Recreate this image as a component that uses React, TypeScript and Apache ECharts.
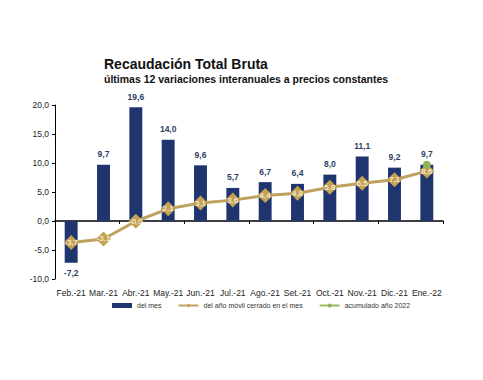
import React, { useEffect, useRef } from "react";
import * as echarts from "echarts";

const categories = ["Feb.-21", "Mar.-21", "Abr.-21", "May.-21", "Jun.-21", "Jul.-21", "Ago.-21", "Set.-21", "Oct.-21", "Nov.-21", "Dic.-21", "Ene.-22"];
const delMes = [-7.2, 9.7, 19.6, 14.0, 9.6, 5.7, 6.7, 6.4, 8.0, 11.1, 9.2, 9.7];
const movil = [-3.7, -3.1, -0.04, 2.1, 3.1, 3.6, 4.4, 4.8, 5.8, 6.5, 7.1, 8.6];
const acumulado = [null, null, null, null, null, null, null, null, null, null, null, 9.7];

const fmt = (v: number) => v.toFixed(1).replace(".", ",");
const FONT = "Liberation Sans";

export default function App() {
  const ref = useRef<HTMLDivElement>(null);
  useEffect(() => {
    const chart = echarts.init(ref.current!, null, { renderer: "svg" });
    chart.setOption({
      animation: false,
      textStyle: { fontFamily: FONT },
      title: {
        text: "Recaudación Total Bruta",
        subtext: "últimas 12 variaciones interanuales a precios constantes",
        left: 104,
        top: 57,
        itemGap: 2,
        padding: 0,
        textStyle: { fontFamily: FONT, fontSize: 14, fontWeight: "bold", color: "#111" },
        subtextStyle: { fontFamily: FONT, fontSize: 10.5, fontWeight: "bold", color: "#111" },
      },
      legend: {
        top: 302,
        left: 112,
        padding: 0,
        itemWidth: 20,
        itemHeight: 5,
        itemGap: 16,
        textStyle: { fontFamily: FONT, fontSize: 7, color: "#333" },
        data: [
          { name: "del mes", icon: "rect" },
          { name: "del año móvil cerrado en el mes" },
          { name: "acumulado año 2022" },
        ],
      },
      grid: { left: 55, right: 40, top: 105, bottom: 101 },
      xAxis: [
        {
          type: "category",
          data: categories,
          position: "bottom",
          axisLine: { show: true, onZero: true, lineStyle: { color: "#000", width: 1.5 } },
          axisTick: { show: true, length: 3, inside: false, lineStyle: { color: "#000" } },
          axisLabel: { show: false },
        },
        {
          type: "category",
          data: categories,
          position: "bottom",
          axisLine: { show: false, onZero: false },
          axisTick: { show: false },
          axisLabel: { show: true, fontSize: 8.5, color: "#222", margin: 9, interval: 0, fontFamily: FONT },
        },
      ],
      yAxis: {
        type: "value",
        min: -10,
        max: 20,
        interval: 5,
        axisLine: { show: true, lineStyle: { color: "#000" } },
        axisTick: { show: true, length: 3, lineStyle: { color: "#000" } },
        splitLine: { show: false },
        axisLabel: { formatter: (v: number) => fmt(v), fontSize: 8.5, color: "#222", margin: 6, fontFamily: FONT },
      },
      series: [
        {
          name: "del mes",
          type: "bar",
          data: delMes,
          barWidth: "40%",
          itemStyle: { color: "#1F3570" },
          label: {
            show: true,
            position: "outside",
            formatter: (p: any) => fmt(p.value),
            fontSize: 8.5,
            fontWeight: "bold",
            color: "#2B3F66",
            distance: 6,
            fontFamily: FONT,
          },
        },
        {
          name: "del año móvil cerrado en el mes",
          type: "line",
          data: movil,
          symbol: "diamond",
          symbolSize: 15,
          lineStyle: { color: "#BFA15E", width: 3 },
          itemStyle: { color: "#C4A24F" },
          label: {
            show: true,
            position: "inside",
            formatter: (p: any) => fmt(p.value),
            fontSize: 8,
            color: "#fff",
            fontFamily: FONT,
          },
          z: 5,
        },
        {
          name: "acumulado año 2022",
          type: "line",
          data: acumulado,
          symbol: "circle",
          symbolSize: 8,
          lineStyle: { color: "#9BBB59", width: 1.5 },
          itemStyle: { color: "#8DB35B" },
          z: 6,
        },
      ],
    });
    return () => chart.dispose();
  }, []);
  return <div ref={ref} style={{ position: "absolute", left: 0, top: 0, width: 483, height: 380 }} />;
}
